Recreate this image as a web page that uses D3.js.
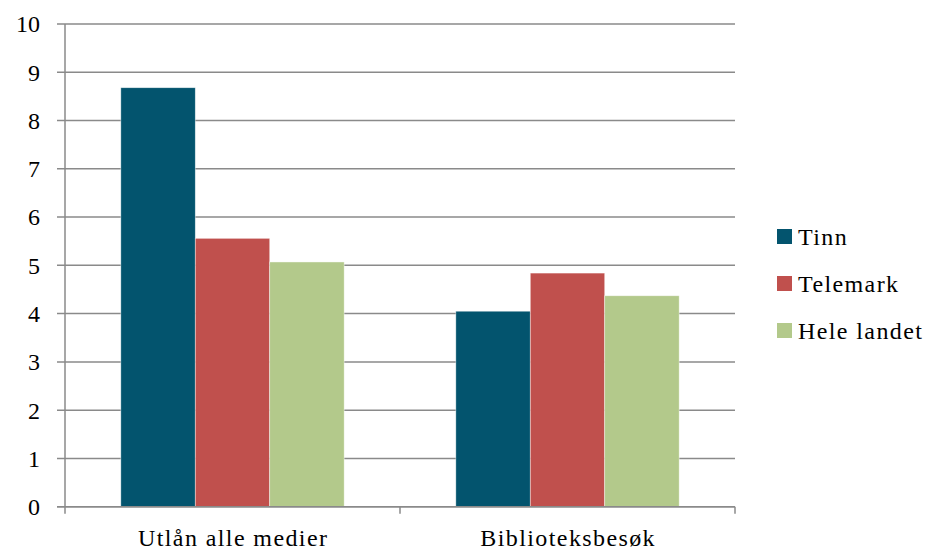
<!DOCTYPE html>
<html><head><meta charset="utf-8">
<script src="https://cdn.jsdelivr.net/npm/d3@7"></script>
<style>body{margin:0;background:#fff}svg{display:block}</style>
</head><body><svg id="c" width="930" height="551"></svg>
<script>
const categories = ["Utlån alle medier", "Biblioteksbesøk"];
const seriesNames = ["Tinn", "Telemark", "Hele landet"];
const tinn = [8.68, 4.05];
const telemark = [5.56, 4.84];
const heleLandet = [5.07, 4.37];
const yTicks = [0,1,2,3,4,5,6,7,8,9,10];
const colors = ["#03546E", "#C0504D", "#B3C98B"];
const seriesValues = [tinn, telemark, heleLandet];
const FONT = "'Liberation Serif', 'Times New Roman', 'DejaVu Serif', 'Noto Serif', serif";

const svg = d3.select("#c").attr("font-family", FONT);
const L = 65, R = 735, T = 24, B = 506.7;
const x0 = d3.scaleBand().domain(categories).range([L, R]).paddingInner(0).paddingOuter(0);
const x1 = d3.scaleBand().domain(seriesNames).range([0, x0.bandwidth()]).paddingInner(0).paddingOuter(0.75);
const y = d3.scaleLinear().domain([0, 10]).range([B, T]);

svg.append("g").selectAll("line").data(yTicks).join("line")
  .attr("x1", L - 8).attr("x2", R).attr("y1", d => y(d)).attr("y2", d => y(d))
  .attr("stroke", "#8a8a8a").attr("stroke-width", 1.5);
svg.append("line").attr("x1", L).attr("x2", L).attr("y1", T).attr("y2", B)
  .attr("stroke", "#8a8a8a").attr("stroke-width", 1.5);
svg.append("g").selectAll("text").data(yTicks).join("text")
  .attr("x", 40).attr("y", d => y(d)).attr("dy", "0.35em").attr("text-anchor", "end")
  .attr("font-family", FONT).attr("font-size", 24).attr("fill", "#000").text(d => d);

const g = svg.append("g");
categories.forEach((c, ci) => {
  seriesNames.forEach((s, si) => {
    g.append("rect")
      .attr("x", x0(c) + x1(s)).attr("width", x1.bandwidth())
      .attr("y", y(seriesValues[si][ci])).attr("height", B - y(seriesValues[si][ci]))
      .attr("fill", colors[si]).attr("stroke", "rgba(255,255,255,0.6)").attr("stroke-width", 0.7);
  });
});

svg.append("line").attr("x1", L - 8).attr("x2", R).attr("y1", B).attr("y2", B)
  .attr("stroke", "#8a8a8a").attr("stroke-width", 1.5);
const bounds = [L, L + x0.bandwidth(), R];
svg.append("g").selectAll("line").data(bounds).join("line")
  .attr("x1", d => d).attr("x2", d => d).attr("y1", B).attr("y2", B + 7)
  .attr("stroke", "#8a8a8a").attr("stroke-width", 1.5);
svg.append("g").selectAll("text").data(categories).join("text")
  .attr("x", d => x0(d) + x0.bandwidth() / 2 + 0.7).attr("y", 546).attr("text-anchor", "middle")
  .attr("font-family", FONT).attr("font-size", 24).attr("letter-spacing", 1.4).attr("fill", "#000").text(d => d);

const lg = svg.append("g");
seriesNames.forEach((s, i) => {
  lg.append("rect").attr("x", 777).attr("y", 229 + i * 47).attr("width", 15).attr("height", 15).attr("fill", colors[i]);
  lg.append("text").attr("x", 798).attr("y", 245 + i * 47).attr("font-family", FONT)
    .attr("font-size", 24).attr("letter-spacing", 1.4).attr("fill", "#000").text(s);
});
</script></body></html>
